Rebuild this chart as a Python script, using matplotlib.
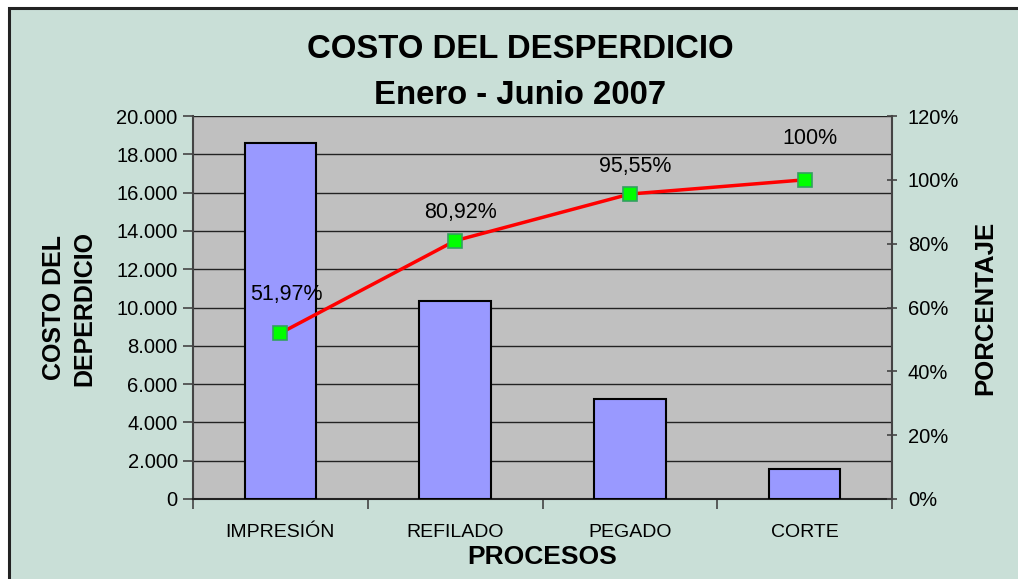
import matplotlib
matplotlib.use('Agg')
import matplotlib.pyplot as plt
from matplotlib.patches import Rectangle
from matplotlib.ticker import FuncFormatter, MultipleLocator
import numpy as np

plt.rcParams['font.family'] = ['Liberation Sans', 'DejaVu Sans']

# datos
procesos = ['IMPRESIÓN', 'REFILADO', 'PEGADO', 'CORTE']
costo = [18600, 10360, 5230, 1590]
porcentaje = [51.97, 80.92, 95.55, 100.0]
etiquetas = ['51,97%', '80,92%', '95,55%', '100%']

fig = plt.figure(figsize=(10.18, 5.79), dpi=100, facecolor='white')

# fondo del grafico con borde (recortado a la derecha/abajo)
bg = Rectangle((9 / 1018, -0.05), 1.1, 1 - 8 / 579 + 0.05, transform=fig.transFigure,
               facecolor='#c9dfd7', edgecolor='#222222', linewidth=2.2, zorder=-10)
fig.patches.append(bg)

ax = fig.add_axes([193 / 1018, 1 - 499 / 579, (892 - 193) / 1018, (499 - 116) / 579])
ax.set_facecolor('#c0c0c0')

x = np.arange(len(procesos))
ax.bar(x, costo, width=0.41, color='#9999ff', edgecolor='black', linewidth=1.5, zorder=3)

ax.set_xlim(-0.5, len(procesos) - 0.5)
ax.set_ylim(0, 20000)
ax.yaxis.set_major_locator(MultipleLocator(2000))
ax.yaxis.set_major_formatter(FuncFormatter(lambda v, p: '{:,.0f}'.format(v).replace(',', '.')))
ax.grid(axis='y', color='#222222', linewidth=1.0, zorder=1)
ax.set_axisbelow(True)

ax.set_xticks(x)
ax.set_xticklabels(procesos, fontsize=14)
ax.set_xticks(np.arange(-0.5, len(procesos)), minor=True)
ax.tick_params(axis='x', which='major', length=0, pad=18)
ax.tick_params(axis='x', which='minor', length=7, width=1.2, color='#444444')
ax.tick_params(axis='y', labelsize=14.5, length=7, width=1.2, color='#444444', pad=4)

for s in ['top', 'right']:
    ax.spines[s].set_visible(False)
ax.spines['left'].set_color('#444444')
ax.spines['left'].set_linewidth(1.5)
ax.spines['bottom'].set_color('#222222')
ax.spines['bottom'].set_linewidth(1.5)

ax2 = ax.twinx()
ax2.plot(x, porcentaje, color='red', linewidth=2.5, marker='s', markersize=10.5,
         markerfacecolor='#00ff00', markeredgecolor='#33a060', markeredgewidth=1.2, zorder=5)
ax2.set_ylim(0, 120)
ax2.yaxis.set_major_locator(MultipleLocator(20))
ax2.yaxis.set_major_formatter(FuncFormatter(lambda v, p: '{:.0f}%'.format(v)))
ax2.tick_params(axis='y', labelsize=14.5, length=7, width=1.2, color='#444444',
                direction='inout', pad=8)
for s in ['top', 'left', 'bottom']:
    ax2.spines[s].set_visible(False)
ax2.spines['right'].set_color('#444444')
ax2.spines['right'].set_linewidth(1.5)

desplaz = [28, 20, 20, 30]
for xi, yi, t, d in zip(x, porcentaje, etiquetas, desplaz):
    ax2.annotate(t, (xi, yi), xytext=(4, d), textcoords='offset points',
                 ha='center', va='center', fontsize=15.5)

fig.text(0.511, 1 - 50 / 579, 'COSTO DEL DESPERDICIO', ha='center', va='center',
         fontsize=23.7, fontweight='bold')
fig.text(0.511, 1 - 95 / 579, 'Enero - Junio 2007', ha='center', va='center',
         fontsize=23.7, fontweight='bold')
fig.text(542 / 1018, 1 - 557 / 579, 'PROCESOS', ha='center', va='center',
         fontsize=19, fontweight='bold')
fig.text(69 / 1018, 1 - 308 / 579, 'COSTO DEL\nDEPERDICIO', ha='center', va='center',
         rotation=90, fontsize=18, fontweight='bold', linespacing=1.35)
fig.text(985 / 1018, 1 - 308 / 579, 'PORCENTAJE', ha='center', va='center',
         rotation=90, fontsize=18.5, fontweight='bold')

fig.savefig('out.png', dpi=100, facecolor=fig.get_facecolor())
